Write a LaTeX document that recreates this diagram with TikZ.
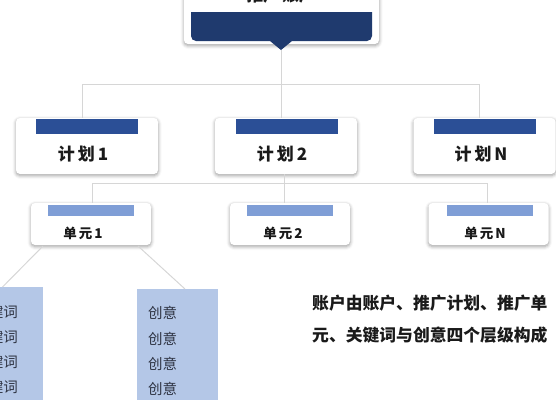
\documentclass[tikz,border=0pt]{standalone}
\usepackage{fontspec}
\setmainfont{Noto Sans CJK SC}
\usetikzlibrary{shadows.blur}
\definecolor{navy}{HTML}{1F3A6E}
\definecolor{planblue}{HTML}{2B4F96}
\definecolor{unitblue}{HTML}{7F9ED6}
\definecolor{leafblue}{HTML}{B4C7E7}
\definecolor{linegray}{HTML}{D6D6D6}
\definecolor{leaftext}{HTML}{2E3342}
\definecolor{ink}{HTML}{1A1A1A}
\begin{document}
\begin{tikzpicture}[x=1pt,y=-1pt,
  card/.style={fill=white, rounded corners=4pt, inner sep=0pt,
    blur shadow={shadow xshift=0pt, shadow yshift=-1.5pt, shadow blur radius=3.5pt, shadow opacity=40}},
  plancard/.style={card, minimum width=142pt, minimum height=56pt},
  unitcard/.style={card, minimum width=120pt, minimum height=42pt},
  planbar/.style={fill=planblue, inner sep=0pt, minimum width=102pt, minimum height=15pt},
  unitbar/.style={fill=unitblue, inner sep=0pt, minimum width=86pt, minimum height=11pt},
  leaf/.style={fill=leafblue, inner sep=0pt, minimum width=81pt, anchor=north},
  plantext/.style={font=\fontsize{17}{19}\selectfont\bfseries, text=ink, inner sep=0pt},
  unittext/.style={font=\fontsize{13.5}{15}\selectfont\bfseries, text=ink, inner sep=0pt},
  leaftxt/.style={font=\fontsize{14.5}{16}\selectfont, text=leaftext, inner sep=0pt},
  conn/.style={draw=linegray, line width=1pt}
]
\useasboundingbox (0,0) rectangle (556,400);
\clip (0,0) rectangle (556,400);

% top account card
\node[card, minimum width=195pt, minimum height=90pt] (acct) at (281.5,-1) {};
\fill[navy] (191,12) -- (372,12) -- (372,36) to[out=-90,in=0] (367,41) -- (292,41) -- (281,50) -- (270,41) -- (196,41) to[out=180,in=-90] (191,36) -- cycle;
\coordinate (tip) at (281,50);
\node[font=\fontsize{16.5}{18}\selectfont\bfseries, text=ink, inner sep=0pt] (accttext) at (281,-5) {推广\,账户};

% plan cards
\node[plancard] (p1) at (87,146) {};
\node[plancard] (p2) at (286,146) {};
\node[plancard] (pN) at (484.5,146) {};
\node[planbar] (p1b) at (87,126.5) {};
\node[planbar] (p2b) at (286.5,126.5) {};
\node[planbar] (pNb) at (485,126.5) {};
\node[plantext] (p1t) at (83,154) {计\hspace{3pt}划\hspace{3pt}1};
\node[plantext] (p2t) at (282,154) {计\hspace{3pt}划\hspace{3pt}2};
\node[plantext] (pNt) at (481,154) {计\hspace{3pt}划\hspace{3pt}N};

% unit cards
\node[unitcard] (u1) at (91,224) {};
\node[unitcard] (u2) at (290,224) {};
\node[unitcard] (uN) at (488.5,224) {};
\node[unitbar] (u1b) at (90.5,210.5) {};
\node[unitbar] (u2b) at (290,210.5) {};
\node[unitbar] (uNb) at (489.5,210.5) {};
\node[unittext] (u1t) at (83,233) {单\hspace{2pt}元\hspace{2pt}1};
\node[unittext] (u2t) at (283,233) {单\hspace{2pt}元\hspace{2pt}2};
\node[unittext] (uNt) at (485,233) {单\hspace{2pt}元\hspace{2pt}N};

% leaf boxes
\node[leaf, minimum height=113pt] (kw) at (2.5,287) {};
\node[leaf, minimum height=111pt] (cr) at (177.5,289) {};
\foreach \y/\n in {312/1,337/2,362/3,387/4}{
  \node[leaftxt, anchor=east] (kw\n) at (18,\y) {关键词};
}
\foreach \y/\n in {313/1,339/2,364/3,389/4}{
  \node[leaftxt, anchor=west] (cr\n) at (148,\y) {创意};
}

% connectors level 1
\coordinate (b1m) at (281,84);
\coordinate (b1l) at (82,84);
\coordinate (b1r) at (479,84);
\draw[conn] (tip) -- (b1m);
\draw[conn] (b1l) -- (b1r);
\draw[conn] (b1l) -- (b1l |- p1.north);
\draw[conn] (b1m) -- (b1m |- p2.north);
\draw[conn] (b1r) -- (b1r |- pN.north);

% connectors level 2
\coordinate (p2o) at (284,174);
\coordinate (b2m) at (284,183);
\coordinate (b2l) at (92,183);
\coordinate (b2r) at (487,183);
\draw[conn] (p2o) -- (b2m);
\draw[conn] (b2l) -- (b2r);
\draw[conn] (b2l) -- (b2l |- u1.north);
\draw[conn] (b2m) -- (b2m |- u2.north);
\draw[conn] (b2r) -- (b2r |- uN.north);

% connectors level 3
\coordinate (u1l) at (43,246);
\coordinate (u1r) at (138,246);
\draw[conn] (u1l) -- (kw.north);
\draw[conn] (u1r) -- (cr.north -| 185,0);

% summary text
\node[font=\fontsize{16.8}{32}\selectfont\bfseries, text=ink, inner sep=0pt, align=left, anchor=base west] (note) at (312,341)
  {账户由账户、推广计划、推广单\\元、关键词与创意四个层级构成};
\end{tikzpicture}
\end{document}
